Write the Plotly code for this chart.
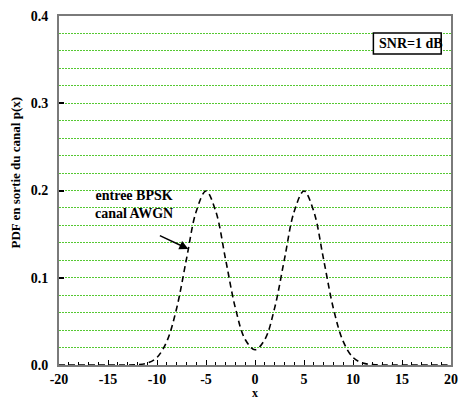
import plotly.graph_objects as go

# x positions (integer steps) and PDF values
x_vals = list(range(-20, 21))
pdf_vals = [0.0, 0.0, 0.0, 0.0, 0.0, 0.0, 0.0, 0.0, 0.00044, 0.0022,
            0.0087, 0.027, 0.0648, 0.121, 0.176, 0.1995, 0.176, 0.121, 0.0652, 0.0292,
            0.0175,
            0.0292, 0.0652, 0.121, 0.176, 0.1995, 0.176, 0.121, 0.0648, 0.027, 0.0087,
            0.0022, 0.00044, 0.0, 0.0, 0.0, 0.0, 0.0, 0.0, 0.0, 0.0]

x_ticks = [-20, -15, -10, -5, 0, 5, 10, 15, 20]
y_ticks = [0.0, 0.1, 0.2, 0.3, 0.4]
y_ticklabels = ["0.0", "0.1", "0.2", "0.3", "0.4"]

FONT = "Liberation Serif"
GRID = "#55c832"

def b(s):
    return "<b>" + s + "</b>"

fig = go.Figure()
fig.add_trace(go.Scatter(
    x=x_vals, y=pdf_vals, mode="lines", line_shape="spline",
    line=dict(color="black", width=1.6, dash="6px,4px"),
    showlegend=False, hoverinfo="skip"))

fig.update_layout(
    width=462, height=400,
    margin=dict(l=59, r=4, t=16, b=35),
    paper_bgcolor="white", plot_bgcolor="white",
    font=dict(family=FONT, size=13, color="black"),
    showlegend=False,
)
fig.update_xaxes(
    range=[-20, 20], tickvals=x_ticks, ticktext=[b(str(v)) for v in x_ticks],
    showgrid=False, zeroline=False,
    showline=True, linecolor="#7a7a7a", linewidth=2, mirror=True,
    ticks="inside", ticklen=5, tickwidth=1.2, tickcolor="black",
    minor=dict(dtick=1, ticks="inside", ticklen=3, tickwidth=1, tickcolor="black", showgrid=False),
    tickfont=dict(family=FONT, size=14, color="black"),
    ticklabeloverflow="allow",
    layer="below traces",
)
fig.update_yaxes(
    range=[0, 0.4], tickvals=y_ticks, ticktext=[b(s) for s in y_ticklabels],
    showgrid=True, gridcolor=GRID, gridwidth=1, griddash="2px,1px",
    minor=dict(dtick=0.02, tick0=0, showgrid=True, gridcolor=GRID, gridwidth=1, griddash="2px,1px", ticks=""),
    zeroline=False,
    showline=True, linecolor="#7a7a7a", linewidth=2, mirror=True,
    ticks="inside", ticklen=5, tickwidth=1.5, tickcolor="black",
    tickfont=dict(family=FONT, size=14, color="black"),
    ticklabelstandoff=6,
    layer="below traces",
)

# SNR box
fig.add_shape(type="rect", xref="paper", yref="paper",
              x0=0.802, x1=0.975, y0=0.891, y1=0.951,
              line=dict(color="black", width=1.5), fillcolor="white", layer="above")
fig.add_annotation(xref="paper", yref="paper", x=0.898, y=0.921,
                   text=b("SNR=1 dB"), showarrow=False,
                   font=dict(family=FONT, size=14, color="black"),
                   xanchor="center", yanchor="middle")

# curve label and arrow
fig.add_annotation(x=-12.3, y=0.1834, xref="x", yref="y",
                   text=b("entree BPSK") + "<br>" + b("canal AWGN"), showarrow=False,
                   font=dict(family=FONT, size=14, color="black"),
                   align="center", xanchor="center", yanchor="middle")
fig.add_annotation(x=-6.8, y=0.133, xref="x", yref="y",
                   text="", showarrow=True, ax=-30, ay=-14,
                   arrowhead=2, arrowsize=1.2, arrowwidth=1.5, arrowcolor="black")

# axis titles
fig.add_annotation(xref="paper", yref="paper", x=-0.111, y=0.553,
                   text=b("PDF en sortie du canal p(x)"), textangle=-90, showarrow=False,
                   font=dict(family=FONT, size=13, color="black"),
                   xanchor="center", yanchor="middle")
fig.add_annotation(xref="x", yref="paper", x=0, y=-0.0573,
                   text=b("x"), showarrow=False, borderpad=0,
                   font=dict(family=FONT, size=12, color="black"),
                   xanchor="center", yanchor="top")

fig.write_html("out.html")
